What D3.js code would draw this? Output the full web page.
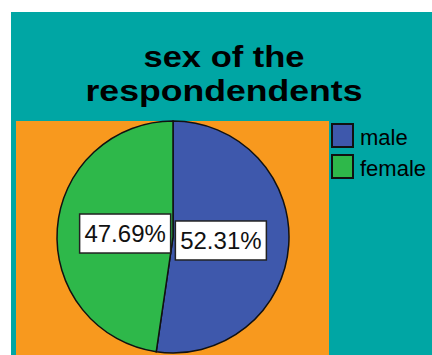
<!DOCTYPE html>
<html>
<head>
<meta charset="utf-8">
<script src="https://cdn.jsdelivr.net/npm/d3@7"></script>
<style>
  body { margin: 0; background: #fff; }
  svg { display: block; font-family: "Liberation Sans", Arial, sans-serif; }
</style>
</head>
<body>
<svg id="chart"></svg>
<script>
// chart data
const categories = ["male", "female"];
const percents = [52.31, 47.69];
const sliceColors = ["#3e58ac", "#2eb84a"];
const titleLines = ["sex of the", "respondendents"];

const w = 432, h = 355;

const svg = d3.select("#chart")
  .attr("width", w)
  .attr("height", h);

// teal outer panel
svg.append("rect")
  .attr("x", 11).attr("y", 12)
  .attr("width", w - 11).attr("height", h - 12)
  .style("fill", "#00a6a4");

// orange plot area
svg.append("rect")
  .attr("x", 16).attr("y", 121)
  .attr("width", 313).attr("height", h - 121)
  .style("fill", "#f8991e");

// title, a bit wider than the font (stretched like the original export)
const titleWidths = [161, 277];
svg.selectAll("text.title")
  .data(titleLines)
  .enter()
  .append("text")
  .attr("class", "title")
  .attr("x", 224)
  .attr("y", (d, i) => 67 + i * 34)
  .attr("text-anchor", "middle")
  .attr("textLength", (d, i) => titleWidths[i])
  .attr("lengthAdjust", "spacingAndGlyphs")
  .style("font-size", "29px")
  .style("font-weight", "bold")
  .style("fill", "#000")
  .text(d => d);

const color = d3.scaleOrdinal().domain(categories).range(sliceColors);

const radius = 116;
const cx = 173, cy = 237;

const pie = d3.pie().sort(null).value(d => d.value);
const slices = pie(categories.map((c, i) => ({name: c, value: percents[i]})));

const arc = d3.arc().innerRadius(0).outerRadius(radius);
const labelArc = d3.arc().innerRadius(48).outerRadius(48);

const g = svg.append("g").attr("transform", `translate(${cx}, ${cy})`);

g.selectAll("path")
  .data(slices)
  .enter()
  .append("path")
  .attr("d", arc)
  .style("fill", d => color(d.data.name))
  .style("stroke", "#111")
  .style("stroke-width", 1.5);

// percentage labels in white boxes
const labels = g.selectAll("g.label")
  .data(slices)
  .enter()
  .append("g")
  .attr("class", "label")
  .attr("transform", d => `translate(${labelArc.centroid(d)})`);

labels.append("rect")
  .attr("x", -45.5).attr("y", -19.5)
  .attr("width", 91).attr("height", 39)
  .style("fill", "#fff")
  .style("stroke", "#222")
  .style("stroke-width", 1.5);

labels.append("text")
  .attr("text-anchor", "middle")
  .attr("dy", "0.36em")
  .style("font-size", "24px")
  .style("fill", "#111")
  .text(d => d.data.value.toFixed(2) + "%");

// legend
const legendY = d3.scalePoint().domain(categories).range([124, 155]);

const legend = svg.selectAll("g.legend")
  .data(categories)
  .enter()
  .append("g")
  .attr("class", "legend")
  .attr("transform", d => `translate(332, ${legendY(d)})`);

legend.append("rect")
  .attr("width", 21).attr("height", 23)
  .style("fill", d => color(d))
  .style("stroke", "#111")
  .style("stroke-width", 2);

legend.append("text")
  .attr("x", 28)
  .attr("y", 21)
  .style("font-size", "22px")
  .style("fill", "#000")
  .text(d => d);
</script>
</body>
</html>
